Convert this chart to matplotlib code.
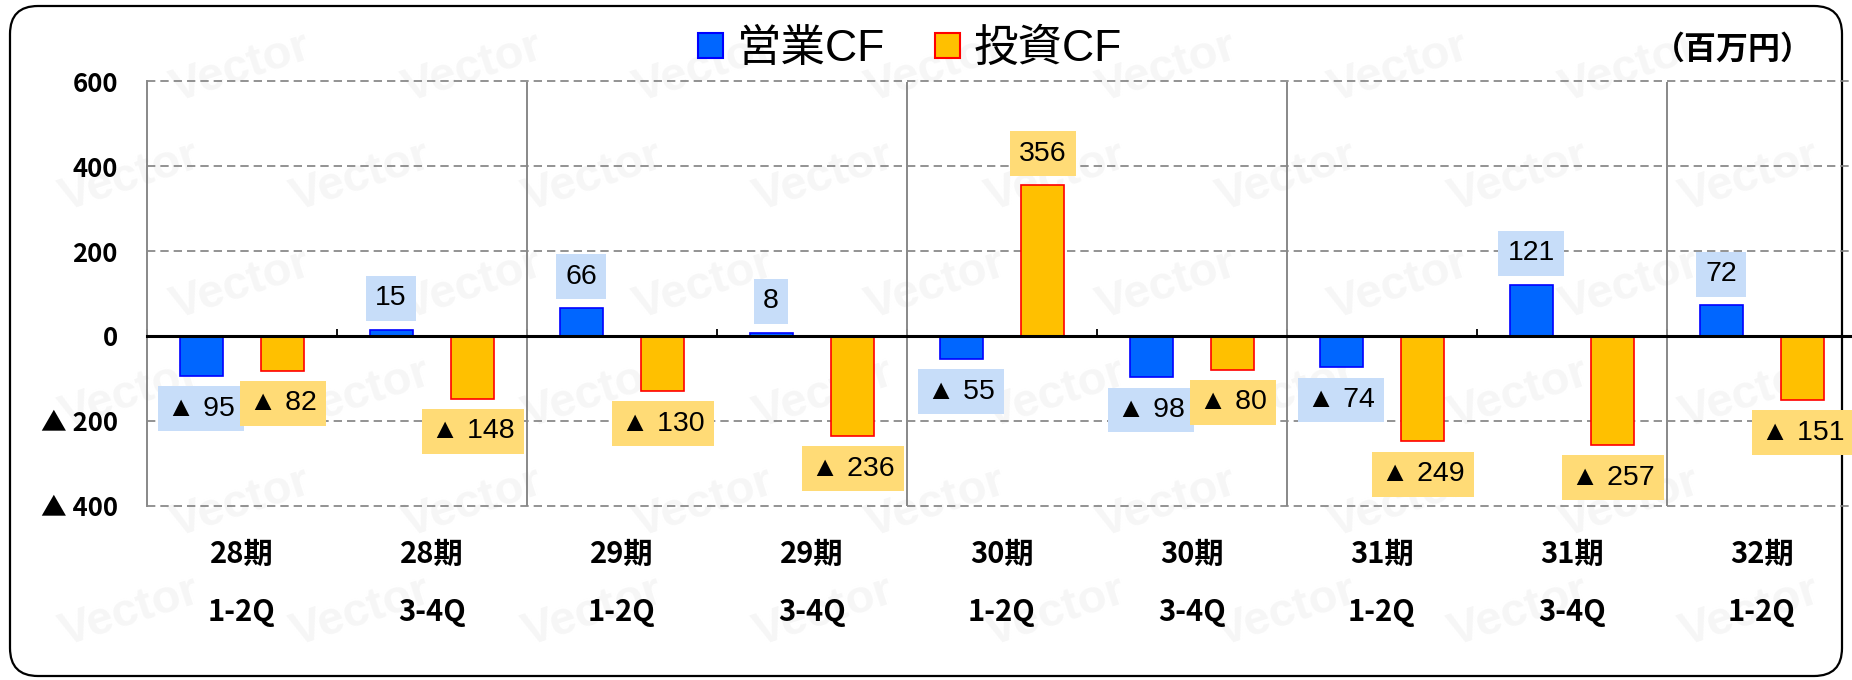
import matplotlib
matplotlib.use("Agg")
import matplotlib.pyplot as plt
from matplotlib.lines import Line2D
from matplotlib.patches import FancyBboxPatch
from matplotlib.transforms import blended_transform_factory
import numpy as np

# ---- data ----
periods = ['28期', '28期', '29期', '29期', '30期', '30期', '31期', '31期', '32期']
halves = ['1-2Q', '3-4Q', '1-2Q', '3-4Q', '1-2Q', '3-4Q', '1-2Q', '3-4Q', '1-2Q']
operating_cf = [-95, 15, 66, 8, -55, -98, -74, 121, 72]
investing_cf = [-82, -148, -130, -236, 356, -80, -249, -257, -151]
series_names = ['営業CF', '投資CF']
y_ticks = [-400, -200, 0, 200, 400, 600]
y_tick_labels = ['▲ 400', '▲ 200', '0', '200', '400', '600']
unit_label = '（百万円）'
watermark = 'Vector'

BLUE, BLUE_EDGE, BLUE_BOX = '#0066ff', '#0000ff', '#c7ddf9'
ORANGE, ORANGE_EDGE, ORANGE_BOX = '#ffc000', '#ff0000', '#ffdb76'
JP = ['Noto Sans CJK JP', 'DejaVu Sans']
LAT = ['Liberation Sans', 'Noto Sans CJK JP', 'DejaVu Sans']

W, H, DPI = 1852, 680, 100
fig = plt.figure(figsize=(W / DPI, H / DPI), dpi=DPI)
fig.patch.set_facecolor('white')

# outer rounded frame
frame = FancyBboxPatch((10 / DPI, 4 / DPI), (1842 - 10) / DPI, (674 - 4) / DPI,
                       boxstyle='round,pad=0,rounding_size=0.28',
                       transform=fig.dpi_scale_trans, fc='none', ec='black', lw=1.6, zorder=0)
fig.patches.append(frame)

# faint watermark (kept inside the frame)
for r, yy in enumerate(np.arange(0.10, 0.95, 0.16)):
    for xx in np.arange(0.07 + (r % 2) * 0.06, 0.95, 0.125):
        fig.text(xx, yy, watermark, fontsize=34, fontweight='bold', color='#f6f6f6',
                 rotation=18, ha='center', va='center', family=LAT, zorder=0)

ax_left, ax_right = 147, 1857
ax_top, ax_bottom = 81.5, 505.5
ax = fig.add_axes([ax_left / W, 1 - ax_bottom / H, (ax_right - ax_left) / W, (ax_bottom - ax_top) / H])
ax.patch.set_alpha(0)
ax.set_zorder(2)

n = len(periods)
x = np.arange(n)
bw = 0.226
off = 0.215
ax.bar(x + 0.5 - off, operating_cf, width=bw, color=BLUE, edgecolor=BLUE_EDGE, linewidth=1.2, zorder=3)
ax.bar(x + 0.5 + off, investing_cf, width=bw, color=ORANGE, edgecolor=ORANGE_EDGE, linewidth=1.2, zorder=3)

ax.set_xlim(0, n)
ax.set_ylim(-400, 600)

# value labels
def fmt(v):
    return f'▲ {abs(v)}' if v < 0 else f'{v}'

for xs, vals, box in [(x + 0.5 - off, operating_cf, BLUE_BOX), (x + 0.5 + off, investing_cf, ORANGE_BOX)]:
    for xi, v in zip(xs, vals):
        ax.annotate(fmt(v), (xi, v), xytext=(0, 22.5 if v >= 0 else -23.5), textcoords='offset points',
                    ha='center', va='center', fontsize=20.5, family=LAT, color='black', zorder=5,
                    bbox=dict(boxstyle='square,pad=0.33', fc=box, ec='none'), annotation_clip=False)

# grid & spines
ax.set_yticks(y_ticks)
ax.set_yticklabels(y_tick_labels, fontsize=18.5, fontweight='bold', family=JP)
ax.tick_params(axis='y', length=0, pad=21)
ax.yaxis.grid(True, linestyle=(0, (5, 3)), color='#808080', linewidth=1.2, zorder=1)
for gl in ax.get_ygridlines():
    gl.set_clip_on(False)
ax.set_axisbelow(True)
for b in range(2, n + 1, 2):
    ax.axvline(b, color='#888888', lw=1.4, zorder=1)

ax.spines['top'].set_visible(False)
ax.spines['right'].set_visible(False)
ax.spines['left'].set_color('#888888')
ax.spines['left'].set_linewidth(1.4)
ax.spines['bottom'].set_position(('data', 0))
ax.spines['bottom'].set_linewidth(2.2)
ax.spines['bottom'].set_color('black')
ax.spines['bottom'].set_zorder(4)
ax.set_xticks(np.arange(0, n + 1))
ax.set_xticklabels([])
ax.tick_params(axis='x', direction='in', length=5, width=1.3, color='black')

# category labels
tr = blended_transform_factory(ax.transData, ax.transAxes)
for i in range(n):
    ax.text(i + 0.5, -0.114, periods[i], transform=tr, ha='center', va='center',
            fontsize=21, fontweight='bold', family=JP, clip_on=False)
    ax.text(i + 0.5, -0.251, halves[i], transform=tr, ha='center', va='center',
            fontsize=21, fontweight='bold', family=JP, clip_on=False)

# legend
handles = [Line2D([], [], marker='s', ls='', ms=18, mfc=BLUE, mec=BLUE_EDGE, mew=1.5),
           Line2D([], [], marker='s', ls='', ms=18, mfc=ORANGE, mec=ORANGE_EDGE, mew=1.5)]
fig.legend(handles, series_names, loc='center', bbox_to_anchor=(907 / W, 1 - 49 / H), ncol=2,
           frameon=False, prop={'family': LAT, 'size': 32}, handletextpad=0.2,
           columnspacing=1.0, handlelength=0.8, borderaxespad=0)

fig.text(1813 / W, 1 - 50 / H, unit_label, ha='right', va='center', fontsize=23,
         fontweight='bold', family=JP)

fig.savefig('out.png', dpi=DPI)
